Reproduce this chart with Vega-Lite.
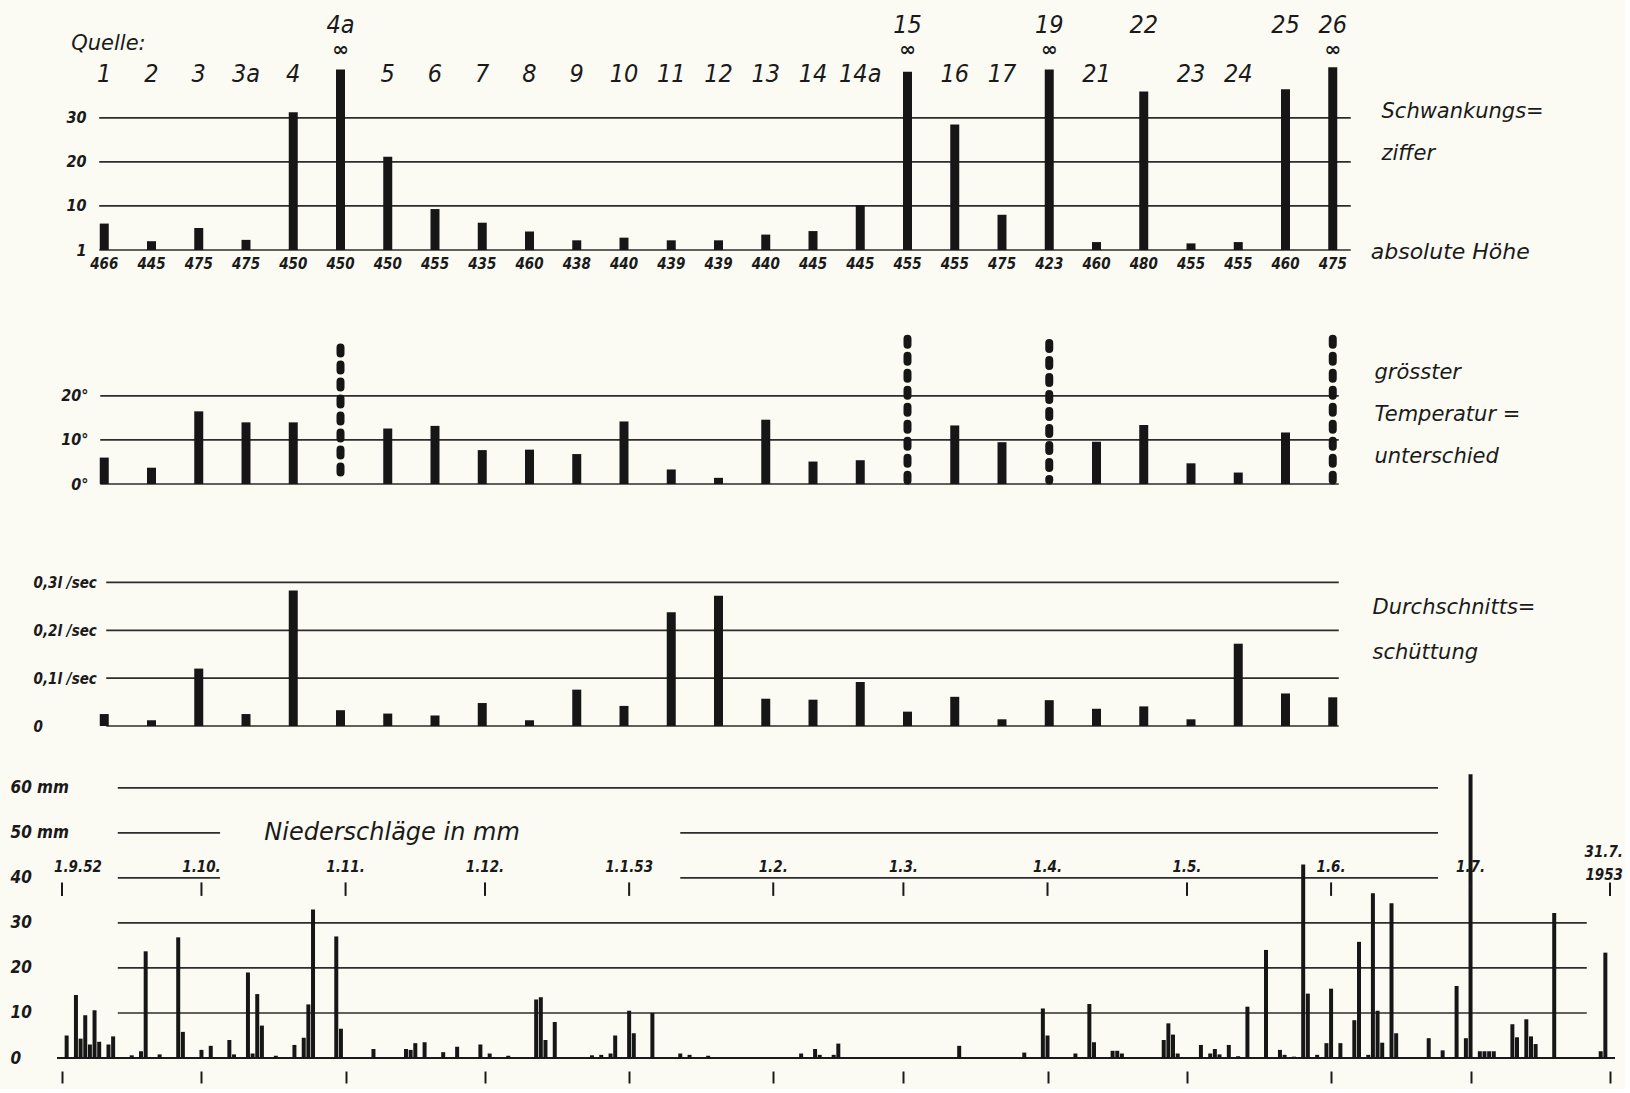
{
  "$schema": "https://vega.github.io/schema/vega-lite/v6.json",
  "background": "#fbfbf4",
  "padding": {"left": 10, "top": 10, "right": 2, "bottom": 5},
  "bounds": "flush",
  "spacing": 20,
  "config": {"view": {"stroke": null}},
  "datasets": {
    "quellen": [
      {"q": "1", "h": 466, "s": 6, "t": 6, "d": 0.025, "inf": false},
      {"q": "2", "h": 445, "s": 2, "t": 3.7, "d": 0.012, "inf": false},
      {"q": "3", "h": 475, "s": 5, "t": 16.5, "d": 0.12, "inf": false},
      {"q": "3a", "h": 475, "s": 2.3, "t": 14, "d": 0.025, "inf": false},
      {"q": "4", "h": 450, "s": 31.3, "t": 14, "d": 0.283, "inf": false},
      {"q": "4a", "h": 450, "s": 41, "t": 31, "d": 0.033, "inf": true},
      {"q": "5", "h": 450, "s": 21.2, "t": 12.6, "d": 0.026, "inf": false},
      {"q": "6", "h": 455, "s": 9.3, "t": 13.2, "d": 0.022, "inf": false},
      {"q": "7", "h": 435, "s": 6.2, "t": 7.7, "d": 0.048, "inf": false},
      {"q": "8", "h": 460, "s": 4.2, "t": 7.8, "d": 0.012, "inf": false},
      {"q": "9", "h": 438, "s": 2.2, "t": 6.8, "d": 0.076, "inf": false},
      {"q": "10", "h": 440, "s": 2.8, "t": 14.2, "d": 0.042, "inf": false},
      {"q": "11", "h": 439, "s": 2.2, "t": 3.3, "d": 0.238, "inf": false},
      {"q": "12", "h": 439, "s": 2.2, "t": 1.4, "d": 0.272, "inf": false},
      {"q": "13", "h": 440, "s": 3.5, "t": 14.6, "d": 0.057, "inf": false},
      {"q": "14", "h": 445, "s": 4.3, "t": 5.1, "d": 0.055, "inf": false},
      {"q": "14a", "h": 445, "s": 10.2, "t": 5.4, "d": 0.092, "inf": false},
      {"q": "15", "h": 455, "s": 40.5, "t": 33, "d": 0.03, "inf": true},
      {"q": "16", "h": 455, "s": 28.5, "t": 13.3, "d": 0.061, "inf": false},
      {"q": "17", "h": 475, "s": 8, "t": 9.5, "d": 0.014, "inf": false},
      {"q": "19", "h": 423, "s": 41, "t": 32, "d": 0.054, "inf": true},
      {"q": "21", "h": 460, "s": 1.8, "t": 9.6, "d": 0.036, "inf": false},
      {"q": "22", "h": 480, "s": 36, "t": 13.4, "d": 0.041, "inf": false},
      {"q": "23", "h": 455, "s": 1.5, "t": 4.7, "d": 0.014, "inf": false},
      {"q": "24", "h": 455, "s": 1.8, "t": 2.6, "d": 0.172, "inf": false},
      {"q": "25", "h": 460, "s": 36.5, "t": 11.7, "d": 0.068, "inf": false},
      {"q": "26", "h": 475, "s": 41.5, "t": 33, "d": 0.06, "inf": true}
    ],
    "regen": [
      {"datum": "1952-09-02", "mm": 5}, {"datum": "1952-09-04", "mm": 14}, {"datum": "1952-09-05", "mm": 4.3},
      {"datum": "1952-09-06", "mm": 9.5}, {"datum": "1952-09-07", "mm": 3}, {"datum": "1952-09-08", "mm": 10.6},
      {"datum": "1952-09-09", "mm": 3.6}, {"datum": "1952-09-11", "mm": 3}, {"datum": "1952-09-12", "mm": 4.8},
      {"datum": "1952-09-16", "mm": 0.6}, {"datum": "1952-09-18", "mm": 1.5}, {"datum": "1952-09-19", "mm": 23.7},
      {"datum": "1952-09-22", "mm": 0.8}, {"datum": "1952-09-26", "mm": 26.8}, {"datum": "1952-09-27", "mm": 5.8},
      {"datum": "1952-10-01", "mm": 1.8}, {"datum": "1952-10-03", "mm": 2.7}, {"datum": "1952-10-07", "mm": 4},
      {"datum": "1952-10-08", "mm": 0.8}, {"datum": "1952-10-11", "mm": 19}, {"datum": "1952-10-12", "mm": 1},
      {"datum": "1952-10-13", "mm": 14.2}, {"datum": "1952-10-14", "mm": 7.2}, {"datum": "1952-10-17", "mm": 0.5},
      {"datum": "1952-10-21", "mm": 2.9}, {"datum": "1952-10-23", "mm": 4.5}, {"datum": "1952-10-24", "mm": 11.9},
      {"datum": "1952-10-25", "mm": 33}, {"datum": "1952-10-30", "mm": 27}, {"datum": "1952-10-31", "mm": 6.5},
      {"datum": "1952-11-07", "mm": 2}, {"datum": "1952-11-14", "mm": 2}, {"datum": "1952-11-15", "mm": 1.8},
      {"datum": "1952-11-16", "mm": 3.3}, {"datum": "1952-11-18", "mm": 3.5}, {"datum": "1952-11-22", "mm": 1.3},
      {"datum": "1952-11-25", "mm": 2.5}, {"datum": "1952-11-30", "mm": 3}, {"datum": "1952-12-02", "mm": 1},
      {"datum": "1952-12-06", "mm": 0.5}, {"datum": "1952-12-12", "mm": 13}, {"datum": "1952-12-13", "mm": 13.5},
      {"datum": "1952-12-14", "mm": 4}, {"datum": "1952-12-16", "mm": 8}, {"datum": "1952-12-24", "mm": 0.6},
      {"datum": "1952-12-26", "mm": 0.7}, {"datum": "1952-12-28", "mm": 1}, {"datum": "1952-12-29", "mm": 5},
      {"datum": "1953-01-01", "mm": 10.5}, {"datum": "1953-01-02", "mm": 5.5}, {"datum": "1953-01-06", "mm": 10},
      {"datum": "1953-01-12", "mm": 1}, {"datum": "1953-01-14", "mm": 0.7}, {"datum": "1953-01-18", "mm": 0.5},
      {"datum": "1953-02-07", "mm": 1}, {"datum": "1953-02-10", "mm": 2}, {"datum": "1953-02-11", "mm": 0.7},
      {"datum": "1953-02-14", "mm": 0.7}, {"datum": "1953-02-15", "mm": 3.2}, {"datum": "1953-03-13", "mm": 2.7},
      {"datum": "1953-03-27", "mm": 1.2}, {"datum": "1953-03-31", "mm": 11}, {"datum": "1953-04-01", "mm": 5},
      {"datum": "1953-04-07", "mm": 1}, {"datum": "1953-04-10", "mm": 12}, {"datum": "1953-04-11", "mm": 3.5},
      {"datum": "1953-04-15", "mm": 1.6}, {"datum": "1953-04-16", "mm": 1.6}, {"datum": "1953-04-17", "mm": 1},
      {"datum": "1953-04-26", "mm": 4}, {"datum": "1953-04-27", "mm": 7.7}, {"datum": "1953-04-28", "mm": 5.2},
      {"datum": "1953-04-29", "mm": 1}, {"datum": "1953-05-04", "mm": 2.9}, {"datum": "1953-05-06", "mm": 1},
      {"datum": "1953-05-07", "mm": 2}, {"datum": "1953-05-08", "mm": 0.8}, {"datum": "1953-05-10", "mm": 2.9},
      {"datum": "1953-05-12", "mm": 0.4}, {"datum": "1953-05-14", "mm": 11.4}, {"datum": "1953-05-18", "mm": 24},
      {"datum": "1953-05-21", "mm": 1.8}, {"datum": "1953-05-22", "mm": 0.7}, {"datum": "1953-05-24", "mm": 0.3},
      {"datum": "1953-05-26", "mm": 43}, {"datum": "1953-05-27", "mm": 14.3}, {"datum": "1953-05-29", "mm": 0.7},
      {"datum": "1953-05-31", "mm": 3.3}, {"datum": "1953-06-01", "mm": 15.4}, {"datum": "1953-06-03", "mm": 3.3},
      {"datum": "1953-06-06", "mm": 8.4}, {"datum": "1953-06-07", "mm": 25.8}, {"datum": "1953-06-09", "mm": 0.7},
      {"datum": "1953-06-10", "mm": 36.6}, {"datum": "1953-06-11", "mm": 10.5}, {"datum": "1953-06-12", "mm": 3.4},
      {"datum": "1953-06-14", "mm": 34.4}, {"datum": "1953-06-15", "mm": 5.5}, {"datum": "1953-06-22", "mm": 4.4},
      {"datum": "1953-06-25", "mm": 1.7}, {"datum": "1953-06-28", "mm": 16}, {"datum": "1953-06-30", "mm": 4.4},
      {"datum": "1953-07-01", "mm": 63}, {"datum": "1953-07-03", "mm": 1.5}, {"datum": "1953-07-04", "mm": 1.5},
      {"datum": "1953-07-05", "mm": 1.5}, {"datum": "1953-07-06", "mm": 1.5}, {"datum": "1953-07-10", "mm": 7.5},
      {"datum": "1953-07-11", "mm": 4.6}, {"datum": "1953-07-13", "mm": 8.6}, {"datum": "1953-07-14", "mm": 4.8},
      {"datum": "1953-07-15", "mm": 3.1}, {"datum": "1953-07-19", "mm": 32.2}, {"datum": "1953-07-29", "mm": 1.5},
      {"datum": "1953-07-30", "mm": 23.4}
    ],
    "monate": [
      {"datum": "1952-09-01", "label": "1.9.52"},
      {"datum": "1952-10-01", "label": "1.10."},
      {"datum": "1952-11-01", "label": "1.11."},
      {"datum": "1952-12-01", "label": "1.12."},
      {"datum": "1953-01-01", "label": "1.1.53"},
      {"datum": "1953-02-01", "label": "1.2."},
      {"datum": "1953-03-01", "label": "1.3."},
      {"datum": "1953-04-01", "label": "1.4."},
      {"datum": "1953-05-01", "label": "1.5."},
      {"datum": "1953-06-01", "label": "1.6."},
      {"datum": "1953-07-01", "label": "1.7."},
      {"datum": "1953-07-31", "label": "31.7.\n1953"}
    ]
  },
  "vconcat": [
    {
      "width": 1323,
      "height": 240,
      "data": {"name": "quellen"},
      "layer": [
        {
          "data": {"values": [{"g": 0}, {"g": 10}, {"g": 20}, {"g": 30}]},
          "mark": {"type": "rule", "color": "#2d2d2d", "strokeWidth": 1.7, "xOffset": -5, "x2Offset": 18},
          "encoding": {
            "x": {"datum": "1", "type": "nominal", "scale": {"type": "point", "padding": 1.226, "domain": ["1","2","3","3a","4","4a","5","6","7","8","9","10","11","12","13","14","14a","15","16","17","19","21","22","23","24","25","26"]}},
            "x2": {"datum": "26"},
            "y": {"field": "g", "type": "quantitative", "scale": {"domain": [0, 54.5], "nice": false}}
          }
        },
        {
          "mark": {"type": "bar", "width": 9, "color": "#161616"},
          "encoding": {
            "x": {"field": "q", "type": "nominal", "scale": {"type": "point", "padding": 1.226, "domain": ["1","2","3","3a","4","4a","5","6","7","8","9","10","11","12","13","14","14a","15","16","17","19","21","22","23","24","25","26"]},
              "axis": {"title": ["Schwankungs=", "ziffer"], "labels": false, "ticks": false, "domain": false, "grid": false,
                "titleAngle": 0, "titleAlign": "left", "titleBaseline": "top", "titleX": 1324, "titleY": -150, "titleLineHeight": 42,
                "titleFont": "DejaVu Sans", "titleFontSize": 21, "titleFontStyle": "italic", "titleFontWeight": "normal", "titleColor": "#1a1a1a"}},
            "y": {"field": "s", "type": "quantitative", "scale": {"domain": [0, 54.5], "nice": false},
              "axis": {"values": [0, 10, 20, 30], "labelExpr": "datum.value == 0 ? '1' : datum.label", "ticks": false, "tickSize": 0, "domain": false, "grid": false,
                "offset": -31, "labelPadding": 2, "title": null, "labelFont": "DejaVu Sans Condensed, Liberation Sans Narrow, Liberation Sans, sans-serif", "labelFontSize": 16, "labelFontStyle": "italic", "labelFontWeight": "bold", "labelColor": "#1a1a1a"}}
          }
        },
        {
          "mark": {"type": "text", "dy": 14, "font": "DejaVu Sans Condensed, Liberation Sans Narrow, Liberation Sans, sans-serif", "fontSize": 15, "fontStyle": "italic", "fontWeight": "bold", "color": "#1a1a1a"},
          "encoding": {
            "x": {"field": "q", "type": "nominal"},
            "y": {"datum": 0, "type": "quantitative"},
            "text": {"field": "h"}
          }
        },
        {
          "data": {"values": [{"t": "absolute Höhe"}]},
          "mark": {"type": "text", "align": "left", "dx": 38, "dy": 2, "font": "DejaVu Sans", "fontSize": 22, "fontStyle": "italic", "color": "#1a1a1a"},
          "encoding": {
            "x": {"datum": "26", "type": "nominal"},
            "y": {"datum": 0, "type": "quantitative"},
            "text": {"field": "t"}
          }
        },
        {
          "transform": [{"filter": "datum.s <= 33"}],
          "mark": {"type": "text", "font": "DejaVu Sans Condensed, Liberation Sans Narrow, Liberation Sans, sans-serif", "fontSize": 25, "fontStyle": "italic", "color": "#1a1a1a"},
          "encoding": {
            "x": {"field": "q", "type": "nominal"},
            "y": {"datum": 40, "type": "quantitative"},
            "text": {"field": "q"}
          }
        },
        {
          "transform": [{"filter": "datum.s > 33"}],
          "mark": {"type": "text", "font": "DejaVu Sans Condensed, Liberation Sans Narrow, Liberation Sans, sans-serif", "fontSize": 25, "fontStyle": "italic", "color": "#1a1a1a"},
          "encoding": {
            "x": {"field": "q", "type": "nominal"},
            "y": {"datum": 51, "type": "quantitative"},
            "text": {"field": "q"}
          }
        },
        {
          "transform": [{"filter": "datum.inf"}],
          "mark": {"type": "text", "font": "DejaVu Sans", "fontSize": 20, "fontWeight": "bold", "color": "#1a1a1a"},
          "encoding": {
            "x": {"field": "q", "type": "nominal"},
            "y": {"datum": 45.5, "type": "quantitative"},
            "text": {"value": "∞"}
          }
        },
        {
          "data": {"values": [{"t": "Quelle:"}]},
          "mark": {"type": "text", "align": "left", "dx": -33, "font": "DejaVu Sans", "fontSize": 21, "fontStyle": "italic", "color": "#1a1a1a"},
          "encoding": {
            "x": {"datum": "1", "type": "nominal"},
            "y": {"datum": 46.8, "type": "quantitative"},
            "text": {"field": "t"}
          }
        }
      ]
    },
    {
      "width": 1323,
      "height": 214,
      "data": {"name": "quellen"},
      "layer": [
        {
          "data": {"values": [{"g": 0}, {"g": 10}, {"g": 20}]},
          "mark": {"type": "rule", "color": "#2d2d2d", "strokeWidth": 1.7, "xOffset": -4, "x2Offset": 6},
          "encoding": {
            "x": {"datum": "1", "type": "nominal", "scale": {"type": "point", "padding": 1.226, "domain": ["1","2","3","3a","4","4a","5","6","7","8","9","10","11","12","13","14","14a","15","16","17","19","21","22","23","24","25","26"]}},
            "x2": {"datum": "26"},
            "y": {"field": "g", "type": "quantitative", "scale": {"domain": [0, 48.6], "nice": false}}
          }
        },
        {
          "transform": [{"filter": "!datum.inf"}],
          "mark": {"type": "bar", "width": 9, "color": "#161616"},
          "encoding": {
            "x": {"field": "q", "type": "nominal", "scale": {"type": "point", "padding": 1.226, "domain": ["1","2","3","3a","4","4a","5","6","7","8","9","10","11","12","13","14","14a","15","16","17","19","21","22","23","24","25","26"]},
              "axis": {"title": ["grösster", "Temperatur =", "unterschied"], "labels": false, "ticks": false, "domain": false, "grid": false,
                "titleAngle": 0, "titleAlign": "left", "titleBaseline": "top", "titleX": 1317, "titleY": -123, "titleLineHeight": 42,
                "titleFont": "DejaVu Sans", "titleFontSize": 21, "titleFontStyle": "italic", "titleFontWeight": "normal", "titleColor": "#1a1a1a"}},
            "y": {"field": "t", "type": "quantitative", "scale": {"domain": [0, 48.6], "nice": false},
              "axis": {"values": [0, 10, 20], "labelExpr": "datum.label + '°'", "ticks": false, "tickSize": 0, "domain": false, "grid": false,
                "offset": -33, "labelPadding": 2, "title": null, "labelFont": "DejaVu Sans Condensed, Liberation Sans Narrow, Liberation Sans, sans-serif", "labelFontSize": 16, "labelFontStyle": "italic", "labelFontWeight": "bold", "labelColor": "#1a1a1a"}}
          }
        },
        {
          "transform": [{"filter": "datum.inf"}],
          "mark": {"type": "rule", "color": "#161616", "strokeWidth": 8, "strokeCap": "round", "strokeDash": [6, 11]},
          "encoding": {
            "x": {"field": "q", "type": "nominal"},
            "y": {"field": "t", "type": "quantitative"},
            "y2": {"datum": 0.8}
          }
        }
      ]
    },
    {
      "width": 1323,
      "height": 222,
      "data": {"name": "quellen"},
      "layer": [
        {
          "data": {"values": [{"g": 0}, {"g": 0.1}, {"g": 0.2}, {"g": 0.3}]},
          "mark": {"type": "rule", "color": "#2d2d2d", "strokeWidth": 1.7, "xOffset": 2, "x2Offset": 6},
          "encoding": {
            "x": {"datum": "1", "type": "nominal", "scale": {"type": "point", "padding": 1.226, "domain": ["1","2","3","3a","4","4a","5","6","7","8","9","10","11","12","13","14","14a","15","16","17","19","21","22","23","24","25","26"]}},
            "x2": {"datum": "26"},
            "y": {"field": "g", "type": "quantitative", "scale": {"domain": [0, 0.464], "nice": false}}
          }
        },
        {
          "mark": {"type": "bar", "width": 9, "color": "#161616"},
          "encoding": {
            "x": {"field": "q", "type": "nominal", "scale": {"type": "point", "padding": 1.226, "domain": ["1","2","3","3a","4","4a","5","6","7","8","9","10","11","12","13","14","14a","15","16","17","19","21","22","23","24","25","26"]},
              "axis": {"title": ["Durchschnitts=", "schüttung"], "labels": false, "ticks": false, "domain": false, "grid": false,
                "titleAngle": 0, "titleAlign": "left", "titleBaseline": "top", "titleX": 1315, "titleY": -130, "titleLineHeight": 45,
                "titleFont": "DejaVu Sans", "titleFontSize": 21, "titleFontStyle": "italic", "titleFontWeight": "normal", "titleColor": "#1a1a1a"}},
            "y": {"field": "d", "type": "quantitative", "scale": {"domain": [0, 0.464], "nice": false},
              "axis": {"values": [0, 0.1, 0.2, 0.3], "labelExpr": "datum.value == 0 ? '0' : replace(format(datum.value, '.1f'), '.', ',') + 'l /sec'", "ticks": false, "tickSize": 0, "domain": false, "grid": false,
                "labelAlign": "left", "labelPadding": 24, "title": null, "labelFont": "DejaVu Sans Condensed, Liberation Sans Narrow, Liberation Sans, sans-serif", "labelFontSize": 15, "labelFontStyle": "italic", "labelFontWeight": "bold", "labelColor": "#1a1a1a"}}
          }
        }
      ]
    },
    {
      "width": 1558,
      "height": 312,
      "layer": [
        {
          "data": {"values": [{"g": 10}, {"g": 20}, {"g": 30}]},
          "mark": {"type": "rule", "color": "#2d2d2d", "strokeWidth": 1.7},
          "encoding": {
            "x": {"datum": {"year": 1952, "month": 9, "date": 13, "utc": true}, "type": "temporal", "scale": {"type": "utc", "nice": false, "domain": [{"year": 1952, "month": 9, "date": 1, "utc": true}, {"year": 1953, "month": 7, "date": 31, "utc": true}]}},
            "x2": {"datum": {"year": 1953, "month": 7, "date": 26, "utc": true}},
            "y": {"field": "g", "type": "quantitative", "scale": {"domain": [0, 69.3], "nice": false}}
          }
        },
        {
          "data": {"values": [{"g": 60}]},
          "mark": {"type": "rule", "color": "#2d2d2d", "strokeWidth": 1.7},
          "encoding": {
            "x": {"datum": {"year": 1952, "month": 9, "date": 13, "utc": true}, "type": "temporal"},
            "x2": {"datum": {"year": 1953, "month": 6, "date": 24, "utc": true}},
            "y": {"field": "g", "type": "quantitative"}
          }
        },
        {
          "data": {"values": [{"g": 40}, {"g": 50}]},
          "mark": {"type": "rule", "color": "#2d2d2d", "strokeWidth": 1.7},
          "encoding": {
            "x": {"datum": {"year": 1952, "month": 9, "date": 13, "utc": true}, "type": "temporal"},
            "x2": {"datum": {"year": 1952, "month": 10, "date": 5, "utc": true}},
            "y": {"field": "g", "type": "quantitative"}
          }
        },
        {
          "data": {"values": [{"g": 40}, {"g": 50}]},
          "mark": {"type": "rule", "color": "#2d2d2d", "strokeWidth": 1.7},
          "encoding": {
            "x": {"datum": {"year": 1953, "month": 1, "date": 12, "utc": true}, "type": "temporal"},
            "x2": {"datum": {"year": 1953, "month": 6, "date": 24, "utc": true}},
            "y": {"field": "g", "type": "quantitative"}
          }
        },
        {
          "data": {"values": [{"g": 0}]},
          "mark": {"type": "rule", "color": "#1a1a1a", "strokeWidth": 2},
          "encoding": {
            "y": {"field": "g", "type": "quantitative"}
          }
        },
        {
          "data": {"name": "regen"},
          "mark": {"type": "bar", "width": 4, "color": "#161616"},
          "encoding": {
            "x": {"field": "datum", "type": "temporal", "scale": {"type": "utc", "nice": false, "domain": [{"year": 1952, "month": 9, "date": 1, "utc": true}, {"year": 1953, "month": 7, "date": 31, "utc": true}]},
              "axis": {"values": [
                {"year": 1952, "month": 9, "date": 1, "utc": true}, {"year": 1952, "month": 10, "date": 1, "utc": true},
                {"year": 1952, "month": 11, "date": 1, "utc": true}, {"year": 1952, "month": 12, "date": 1, "utc": true},
                {"year": 1953, "month": 1, "date": 1, "utc": true}, {"year": 1953, "month": 2, "date": 1, "utc": true},
                {"year": 1953, "month": 3, "date": 1, "utc": true}, {"year": 1953, "month": 4, "date": 1, "utc": true},
                {"year": 1953, "month": 5, "date": 1, "utc": true}, {"year": 1953, "month": 6, "date": 1, "utc": true},
                {"year": 1953, "month": 7, "date": 1, "utc": true}, {"year": 1953, "month": 7, "date": 31, "utc": true}],
                "labels": false, "domain": false, "grid": false, "ticks": true, "tickSize": 12, "tickWidth": 2, "tickColor": "#1a1a1a", "offset": 13, "title": null}},
            "y": {"field": "mm", "type": "quantitative", "scale": {"domain": [0, 69.3], "nice": false},
              "axis": {"values": [0, 10, 20, 30, 40, 50, 60], "labelExpr": "datum.value >= 50 ? datum.label + ' mm' : datum.label", "ticks": false, "tickSize": 0, "domain": false, "grid": false,
                "labelAlign": "left", "labelPadding": 47, "title": null, "labelFont": "DejaVu Sans Condensed, Liberation Sans Narrow, Liberation Sans, sans-serif", "labelFontSize": 17, "labelFontStyle": "italic", "labelFontWeight": "bold", "labelColor": "#1a1a1a"}}
          }
        },
        {
          "data": {"name": "monate"},
          "mark": {"type": "rule", "color": "#1a1a1a", "strokeWidth": 2},
          "encoding": {
            "x": {"field": "datum", "type": "temporal"},
            "y": {"datum": 36, "type": "quantitative"},
            "y2": {"datum": 39}
          }
        },
        {
          "data": {"name": "monate"},
          "transform": [{"filter": "datum.label != '1.9.52' && datum.label != '31.7.\\n1953'"}],
          "mark": {"type": "text", "font": "DejaVu Sans Condensed, Liberation Sans Narrow, Liberation Sans, sans-serif", "fontSize": 15, "fontStyle": "italic", "fontWeight": "bold", "color": "#1a1a1a"},
          "encoding": {
            "x": {"field": "datum", "type": "temporal"},
            "y": {"datum": 42.5, "type": "quantitative"},
            "text": {"field": "label"}
          }
        },
        {
          "data": {"name": "monate"},
          "transform": [{"filter": "datum.label == '1.9.52'"}],
          "mark": {"type": "text", "dx": 16, "font": "DejaVu Sans Condensed, Liberation Sans Narrow, Liberation Sans, sans-serif", "fontSize": 15, "fontStyle": "italic", "fontWeight": "bold", "color": "#1a1a1a"},
          "encoding": {
            "x": {"field": "datum", "type": "temporal"},
            "y": {"datum": 42.5, "type": "quantitative"},
            "text": {"field": "label"}
          }
        },
        {
          "data": {"name": "monate"},
          "transform": [{"filter": "datum.label == '31.7.\\n1953'"}],
          "mark": {"type": "text", "align": "right", "dx": 13, "lineBreak": "\n", "lineHeight": 23, "font": "DejaVu Sans Condensed, Liberation Sans Narrow, Liberation Sans, sans-serif", "fontSize": 15, "fontStyle": "italic", "fontWeight": "bold", "color": "#1a1a1a"},
          "encoding": {
            "x": {"field": "datum", "type": "temporal"},
            "y": {"datum": 45.8, "type": "quantitative"},
            "text": {"field": "label"}
          }
        },
        {
          "data": {"values": [{"t": "Niederschläge in  mm"}]},
          "mark": {"type": "text", "font": "DejaVu Sans", "fontSize": 24, "fontStyle": "italic", "color": "#1a1a1a"},
          "encoding": {
            "x": {"datum": {"year": 1952, "month": 11, "date": 11, "utc": true}, "type": "temporal"},
            "y": {"datum": 50, "type": "quantitative"},
            "text": {"field": "t"}
          }
        }
      ]
    }
  ]
}
